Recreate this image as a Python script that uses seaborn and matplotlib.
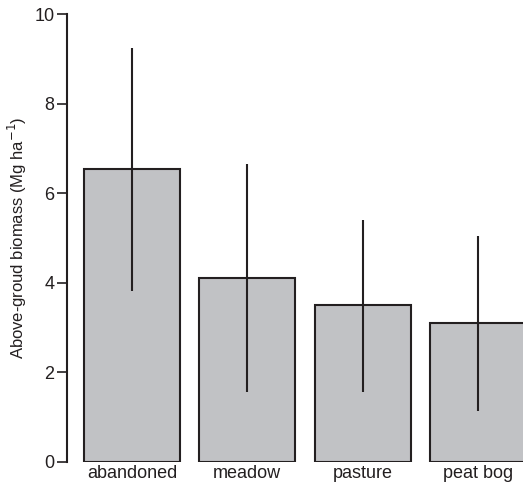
import numpy as np
import matplotlib
matplotlib.use("Agg")
import matplotlib.pyplot as plt
import seaborn as sns

# Values
land_use = ["abandoned", "meadow", "pasture", "peat bog"]
biomass = [6.54, 4.11, 3.50, 3.10]
err_low = [3.82, 1.56, 1.56, 1.13]
err_high = [9.24, 6.66, 5.40, 5.05]

sns.set_style("ticks")
plt.rcParams["font.family"] = ["Liberation Sans", "DejaVu Sans"]

fig = plt.figure(figsize=(5.23, 4.86), dpi=100)
ax = fig.add_axes([0.128, 0.0494, 0.872, 0.9212])

sns.barplot(
    x=land_use,
    y=biomass,
    color="#c1c2c5",
    saturation=1,
    edgecolor="#231f20",
    linewidth=1.5,
    width=0.833,
    errorbar=None,
    ax=ax,
)

# Error bars (no caps)
ax.vlines(np.arange(len(land_use)), err_low, err_high,
          color="#231f20", linewidth=1.5, zorder=3)

ax.set_xlim(-0.564, 3.39)
ax.set_ylim(0, 10)
ax.set_yticks([0, 2, 4, 6, 8, 10])
ax.set_ylabel("Above-groud biomass (Mg ha$^{-1}$)", fontsize=12, color="#231f20")

sns.despine(ax=ax, bottom=True)
ax.spines["left"].set_linewidth(1.5)
ax.spines["left"].set_color("#231f20")
ax.tick_params(axis="y", length=7, width=1.2, labelsize=13, colors="#231f20", pad=2)
ax.tick_params(axis="x", length=0, labelsize=13, colors="#231f20", pad=2)

plt.savefig("out.png", dpi=100)
